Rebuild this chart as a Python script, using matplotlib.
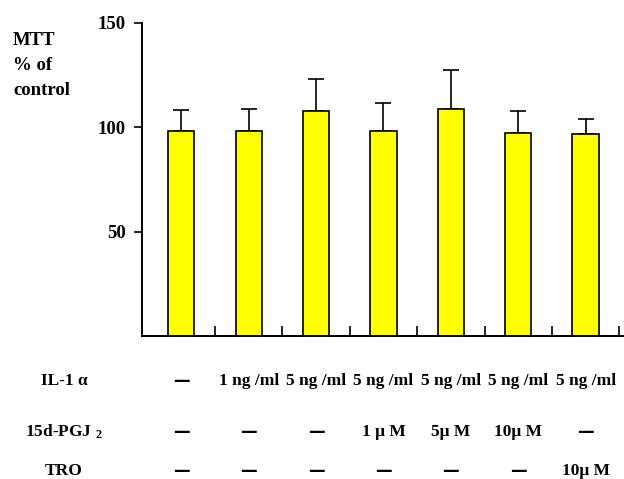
import numpy as np
import matplotlib.pyplot as plt
import matplotlib.transforms as mtransforms

plt.rcParams['font.family'] = ['Liberation Serif', 'DejaVu Serif']
plt.rcParams['font.weight'] = 'bold'
plt.rcParams['mathtext.fontset'] = 'custom'
plt.rcParams['mathtext.rm'] = 'Liberation Serif:bold'
plt.rcParams['mathtext.it'] = 'Liberation Serif:bold'
plt.rcParams['mathtext.bf'] = 'Liberation Serif:bold'

## Data
mtt_values = [98, 98, 107.5, 98, 108.7, 97, 96.6]
mtt_errors = [10.2, 10.5, 15.5, 13.5, 18.5, 10.6, 7.3]
yticks = [50, 100, 150]

row_labels = ['IL-1 \u03b1', '15d-PGJ $_{2}$', 'TRO']
il1_row = ['\u2014', '1 ng /ml', '5 ng /ml', '5 ng /ml', '5 ng /ml', '5 ng /ml', '5 ng /ml']
pgj_row = ['\u2014', '\u2014', '\u2014', '1 \u03bc M', '5\u03bc M', '10\u03bc M', '\u2014']
tro_row = ['\u2014', '\u2014', '\u2014', '\u2014', '\u2014', '\u2014', '10\u03bc M']

## Figure
fig = plt.figure(figsize=(6.24, 4.79), dpi=100)
ax = fig.add_axes([0.228, 0.2985, 0.772, 0.6545])

x = np.arange(len(mtt_values))
ax.bar(x, mtt_values, width=0.39, color='#ffff00', edgecolor='black', linewidth=1.2, zorder=2)
ax.errorbar(x, mtt_values, yerr=[np.zeros(len(x)), mtt_errors], fmt='none',
            ecolor='black', elinewidth=1.2, capsize=5.8, capthick=1.2, zorder=1)

ax.set_ylim(0, 150)
ax.set_xlim(-0.58, 6.57)
ax.set_yticks(yticks)
ax.set_xticks(x + 0.5)
ax.set_xticklabels([])
ax.spines['top'].set_visible(False)
ax.spines['right'].set_visible(False)
ax.spines['left'].set_linewidth(1.4)
ax.spines['bottom'].set_linewidth(1.4)
ax.tick_params(axis='y', direction='out', length=6, width=1.2, pad=6, labelsize=13.5)
ax.tick_params(axis='x', direction='in', length=7, width=1.2)
for lbl in ax.get_yticklabels():
    lbl.set_fontweight('bold')

# y label at top-left
fig.text(0.021, 0.933, 'MTT\n% of\ncontrol', ha='left', va='top', fontsize=13.5,
         fontweight='bold', linespacing=1.6)

## Treatment table below the axis
trans = mtransforms.blended_transform_factory(ax.transData, fig.transFigure)
row_y = [1 - 381 / 479, 1 - 432 / 479, 1 - 471 / 479]
for label, yy in zip(row_labels, row_y):
    fig.text(64 / 624, yy, label, ha='center', va='center', fontsize=12.5, fontweight='bold')
for row, yy in zip([il1_row, pgj_row, tro_row], row_y):
    for xi, txt in zip(x, row):
        if txt == '\u2014':
            ax.text(xi, yy, txt, transform=trans, ha='center', va='center',
                    fontsize=12, fontweight='bold', family='DejaVu Sans', clip_on=False)
        else:
            ax.text(xi, yy, txt, transform=trans, ha='center', va='center',
                    fontsize=12.5, fontweight='bold', clip_on=False)

plt.savefig('out.png', dpi=100)
